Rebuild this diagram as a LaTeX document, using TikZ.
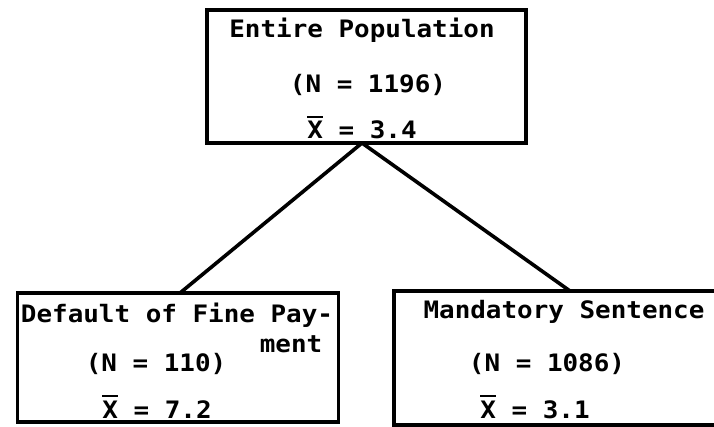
\documentclass[tikz,border=0pt]{standalone}
\usepackage{fontspec}
\newfontfamily\tw[FakeStretch=1.08]{DejaVu Sans Mono Bold}
\newcommand{\barX}{{\setbox0\hbox{X}\rlap{\raisebox{\dimexpr\ht0+3.5pt\relax}{\rule{\wd0}{2pt}}}X}}
\begin{document}
\begin{tikzpicture}[x=1pt,y=-1pt,
  box/.style={draw=black,line width=3.4pt,inner sep=0pt,outer sep=0pt,rectangle},
  lbl/.style={anchor=base,inner sep=0pt,font=\tw\fontsize{24}{28}\selectfont},
  conn/.style={draw=black,line width=3.6pt,line cap=round}]
\useasboundingbox[fill=white] (0,0) rectangle (714,427);
% boxes
\node[box,minimum width=319pt,minimum height=133pt] (top) at (366.5,76.5) {};
\node[box,minimum width=321pt,minimum height=129pt] (left) at (17.5+160.5,293+64.5) {};
\node[box,minimum width=340pt,minimum height=134pt] (right) at (394+170,291+67) {};
% texts
\node[lbl] (t1) at (362,38) {Entire Population};
\node[lbl] (t2) at (368,93) {(N = 1196)};
\node[lbl] (t3) at (362,139) {\barX{} = 3.4};
\node[lbl] (l1) at (177,323) {Default of Fine Pay-};
\node[lbl] (l2) at (291,352) {ment};
\node[lbl] (l3) at (156,371) {(N = 110)};
\node[lbl] (l4) at (157,418) {\barX{} = 7.2};
\node[lbl] (r1) at (564,319) {Mandatory Sentence};
\node[lbl] (r2) at (547,371) {(N = 1086)};
\node[lbl] (r3) at (535,418) {\barX{} = 3.1};
% connectors
\coordinate (apex) at (362,143);
\coordinate (lend) at (180,293);
\coordinate (rend) at (570,291);
\draw[conn] (apex) -- (lend);
\draw[conn] (apex) -- (rend);
\end{tikzpicture}
\end{document}
